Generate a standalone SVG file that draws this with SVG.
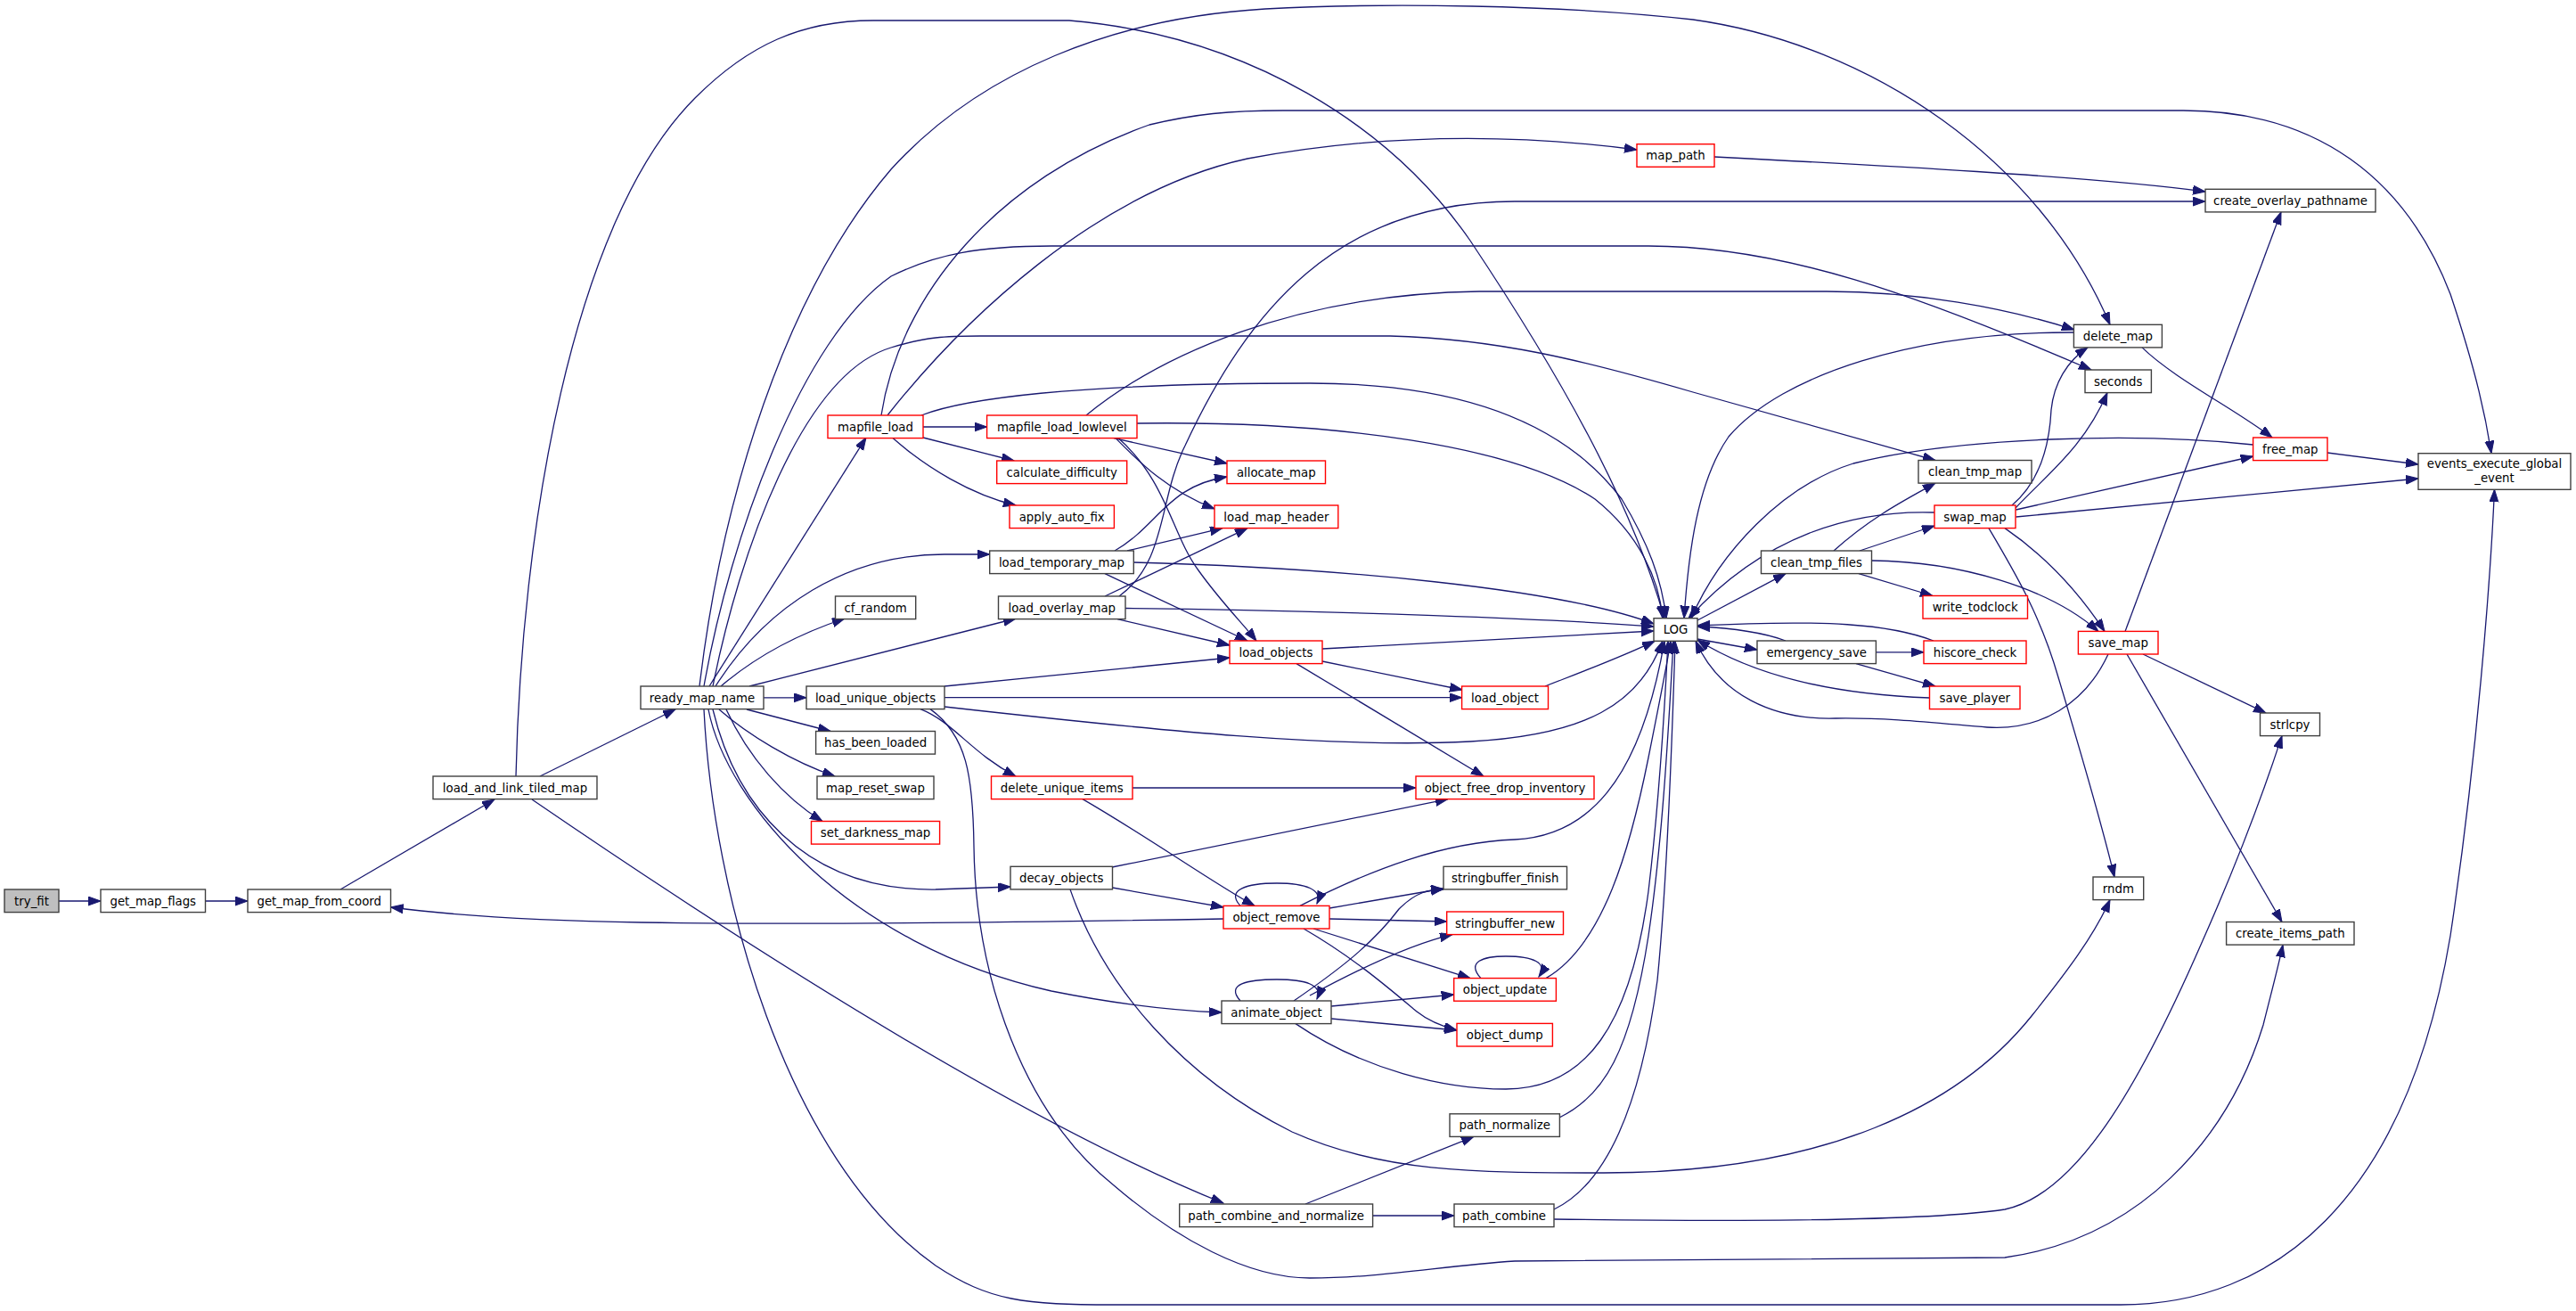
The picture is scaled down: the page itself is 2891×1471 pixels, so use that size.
<svg xmlns="http://www.w3.org/2000/svg" width="2891" height="1471" viewBox="0 0 2891 1471">
<style>
.n rect{fill:#fff;stroke:#404040;stroke-width:1.4}
.n.r rect{stroke:#ff0000}
.n.g rect{fill:#bfbfbf}
.n text{font-family:"DejaVu Sans","Liberation Sans",sans-serif;font-size:13.3px;fill:#000;text-anchor:middle}
#edges path{fill:none;stroke:#191970;stroke-width:1.3;marker-end:url(#ah)}
</style>
<defs>
<marker id="ah" markerUnits="userSpaceOnUse" markerWidth="15" markerHeight="11" refX="14" refY="5" orient="auto">
<path d="M0,0 L14,5 L0,10 Z" fill="#191970" stroke="#191970" stroke-width="1"/>
</marker>
</defs>
<rect width="2891" height="1471" fill="#fff"/>
<g id="edges">
<path d="M66,1011 L113,1011"/>
<path d="M230.5,1011 L278,1011"/>
<path d="M382,998 L555,897"/>
<path d="M1373,1031 C1200,1034 900,1038 720,1035 C600,1033 500,1026 438.5,1018"/>
<path d="M606,871 L758,796"/>
<path d="M597,897 C850,1070 1150,1260 1373,1350"/>
<path d="M579,871 C585,600 640,250 780,110 C840,50 900,23 980,23 L1200,23 C1400,40 1560,140 1650,270 C1750,420 1830,560 1868,694"/>
<path d="M796,770 L972,491"/>
<path d="M803,770 C860,680 950,622 1060,622 L1110.7,622"/>
<path d="M809,770 C850,735 900,710 948,694"/>
<path d="M841,770 L1140,694"/>
<path d="M857,782.8 L905,782.8"/>
<path d="M838,796 L932,820.5"/>
<path d="M807,796 C840,825 890,855 937,871"/>
<path d="M815,796 C840,850 880,895 923,921.5"/>
<path d="M800,796 C825,900 900,1000 1050,998 C1080,997 1110,996 1134,995"/>
<path d="M795,796 C815,900 950,1060 1180,1112 C1260,1128 1320,1134 1371,1136"/>
<path d="M790,796 C800,1000 880,1300 1050,1420 C1110,1460 1150,1464 1250,1464 L2380,1464 C2550,1464 2700,1350 2750,1050 C2780,850 2795,650 2799.5,549.3"/>
<path d="M790,770 C820,600 900,380 1000,310 C1050,285 1100,276 1180,276 L1850,276 C2000,276 2150,330 2347,415"/>
<path d="M785,770 C810,560 880,330 1000,190 C1100,80 1250,20 1420,10 C1550,3 1750,5 1900,22 C2100,50 2290,180 2368,364.3"/>
<path d="M800,770 C830,620 900,420 1000,390 C1040,378 1060,377 1100,377 L1560,377 C1680,380 1780,405 1900,440 L2172,516.5"/>
<path d="M996,466 C1080,360 1230,215 1400,178 C1550,150 1700,150 1837,168"/>
<path d="M989,466 C1010,330 1120,200 1290,140 C1340,128 1380,124 1440,124 L2450,124 C2600,124 2700,200 2750,330 C2780,420 2790,470 2796,508.7"/>
<path d="M1034,466 C1080,448 1200,430 1470,430 C1650,430 1760,480 1820,560 C1850,610 1865,650 1870,694"/>
<path d="M1036,479 L1107.6,479"/>
<path d="M1036,491 L1138,517"/>
<path d="M1002,491.6 C1040,525 1090,555 1140,567"/>
<path d="M1219,466 C1300,400 1450,330 1660,327 L2050,327 C2150,327 2250,345 2328,370"/>
<path d="M1276,475 C1500,472 1700,500 1790,560 C1840,600 1862,650 1866,694"/>
<path d="M1250,491.6 L1377,520"/>
<path d="M1252,491.6 C1280,520 1310,550 1363,571"/>
<path d="M1255,491.6 C1310,540 1315,600 1345,640 C1370,675 1395,700 1410,719"/>
<path d="M1251,618 C1300,590 1310,545 1377,535"/>
<path d="M1265,618 L1372,592.6"/>
<path d="M1272,631 C1500,637 1750,660 1856,700"/>
<path d="M1240,643.6 L1400,719"/>
<path d="M1240,669 L1400,592.6"/>
<path d="M1256,669 C1310,630 1300,560 1330,500 C1400,350 1500,226 1700,226 L2475,226"/>
<path d="M1263,682.5 C1500,685 1750,695 1856,703"/>
<path d="M1254,694.6 L1380,724"/>
<path d="M1060,770 L1380,738"/>
<path d="M1060,782.7 L1640.6,782.7"/>
<path d="M1060,793 C1300,820 1500,840 1650,832 C1780,825 1840,790 1866,719.3"/>
<path d="M1033,795.6 C1070,810 1090,845 1140,871"/>
<path d="M1044,795.6 C1085,825 1092,870 1093,950 C1095,1100 1150,1250 1250,1330 C1320,1390 1400,1434 1470,1434 C1550,1434 1620,1420 1700,1415 L2250,1411 C2400,1390 2500,1280 2540,1150 C2550,1110 2558,1080 2562,1060.1"/>
<path d="M1484,742 L1641,774"/>
<path d="M1484,728 L1856,708"/>
<path d="M1455,744.6 L1665,871"/>
<path d="M1734,770 C1780,752 1820,737 1857,719.3"/>
<path d="M1271,884 L1589,884"/>
<path d="M1215,896.6 C1290,940 1360,990 1408,1016.4"/>
<path d="M1248,973 L1625,896.6"/>
<path d="M1248.5,996 L1373,1018"/>
<path d="M1201,997.9 C1240,1110 1330,1210 1450,1270 C1550,1315 1650,1316 1800,1316 C2050,1316 2200,1240 2280,1140 C2320,1090 2350,1050 2368,1009.6"/>
<path d="M1392,1016.4 C1375,998 1400,991 1433,991 C1465,991 1485,998 1478,1014"/>
<path d="M1492,1019 L1620,997"/>
<path d="M1492,1031 L1623.7,1034"/>
<path d="M1474,1042 L1650,1097.6"/>
<path d="M1463,1042 C1520,1075 1560,1110 1590,1135 C1605,1147 1620,1152 1635,1156"/>
<path d="M1459,1016.4 C1540,975 1620,945 1700,942 C1780,938 1840,880 1868,719.3"/>
<path d="M1392,1123 C1375,1104 1400,1099 1433,1099 C1465,1099 1485,1105 1478,1121"/>
<path d="M1452,1123 C1500,1090 1540,1060 1570,1020 C1590,1000 1605,998 1620,998"/>
<path d="M1470,1117 C1520,1090 1580,1060 1630,1048.6"/>
<path d="M1494,1129 L1631.7,1116"/>
<path d="M1494,1143 L1635,1156"/>
<path d="M1454,1148.6 C1530,1200 1620,1222 1690,1222 C1780,1222 1830,1150 1850,1000 C1862,900 1868,800 1872,719.3"/>
<path d="M1662,1097.6 C1645,1079 1665,1073 1690,1073 C1720,1073 1738,1080 1727,1096"/>
<path d="M1735,1097.6 C1800,1060 1830,950 1850,850 C1862,790 1870,750 1875,719.3"/>
<path d="M1750,1254 C1800,1230 1830,1180 1850,1050 C1865,950 1872,830 1878,719.3"/>
<path d="M1465,1351 L1654,1275.4"/>
<path d="M1540.6,1364 L1632,1364"/>
<path d="M1744,1357 C1800,1330 1840,1250 1860,1100 C1870,1000 1876,850 1880,719.3"/>
<path d="M1744,1368 C1900,1370 2150,1372 2250,1357 C2330,1340 2400,1220 2470,1060 C2510,970 2540,890 2561,825.6"/>
<path d="M1905,696 L2004,643.6"/>
<path d="M1905,717 L1972,729"/>
<path d="M2004,719 C1980,710 1950,705 1905,703"/>
<path d="M2170,719 C2120,700 2050,695 1905,702"/>
<path d="M2105.4,731.8 L2159,731.8"/>
<path d="M2083,744.6 L2172,770"/>
<path d="M2165.5,783 C2080,780 1980,765 1905,718"/>
<path d="M2366,734 C2340,790 2290,820 2230,816 C2180,812 2120,805 2060,806 C1990,808 1930,780 1903,719.3"/>
<path d="M2087,618 L2171,590"/>
<path d="M2058,618 C2100,580 2140,560 2172,542.1"/>
<path d="M2086,643.6 L2169,668.5"/>
<path d="M2100.4,629 C2200,630 2300,660 2355,708.4"/>
<path d="M2250,592.6 C2290,620 2330,660 2362,708.4"/>
<path d="M2171,575 C2080,572 1980,600 1895,693.7"/>
<path d="M2232,592.6 C2260,640 2290,690 2310,760 C2340,860 2360,930 2373,984"/>
<path d="M2258,567 C2290,540 2300,500 2302,460 C2305,430 2320,405 2343,389.9"/>
<path d="M2262,570 C2300,530 2340,500 2365,440.6"/>
<path d="M2262.4,572 L2528.6,512"/>
<path d="M2262.4,580 L2714,537"/>
<path d="M2404,389.9 C2440,425 2510,460 2550,491"/>
<path d="M2327.4,373 C2150,372 2000,420 1940,490 C1905,540 1895,620 1890,693.7"/>
<path d="M2528.6,499 C2400,485 2200,490 2080,520 C2000,545 1930,620 1898,693.7"/>
<path d="M2612,508 L2714,521"/>
<path d="M1924,176 C2100,185 2350,198 2475,215"/>
<path d="M2385,708.4 L2560,237.9"/>
<path d="M2405,734 L2543,800"/>
<path d="M2387,734 L2561,1034.5"/>
</g>
<g id="try_fit" class="n g"><rect x="5" y="998" width="61" height="25.6"/><text x="35.5" y="1015.6">try_fit</text></g>
<g id="get_map_flags" class="n"><rect x="113" y="998" width="117.5" height="25.6"/><text x="171.75" y="1015.6">get_map_flags</text></g>
<g id="get_map_from_coord" class="n"><rect x="278" y="998" width="160.5" height="25.6"/><text x="358.25" y="1015.6">get_map_from_coord</text></g>
<g id="load_and_link_tiled_map" class="n"><rect x="486" y="871" width="184" height="25.6"/><text x="578" y="888.6">load_and_link_tiled_map</text></g>
<g id="ready_map_name" class="n"><rect x="719" y="770" width="138" height="25.6"/><text x="788" y="787.6">ready_map_name</text></g>
<g id="mapfile_load" class="n r"><rect x="929" y="466" width="107" height="25.6"/><text x="982.5" y="483.6">mapfile_load</text></g>
<g id="cf_random" class="n"><rect x="937.5" y="669" width="90.2" height="25.6"/><text x="982.6" y="686.6">cf_random</text></g>
<g id="load_unique_objects" class="n"><rect x="905" y="770" width="155" height="25.6"/><text x="982.5" y="787.6">load_unique_objects</text></g>
<g id="has_been_loaded" class="n"><rect x="915.6" y="820.5" width="133.9" height="25.6"/><text x="982.55" y="838.1">has_been_loaded</text></g>
<g id="map_reset_swap" class="n"><rect x="917" y="871" width="131" height="25.6"/><text x="982.5" y="888.6">map_reset_swap</text></g>
<g id="set_darkness_map" class="n r"><rect x="910.5" y="921.5" width="144.1" height="25.6"/><text x="982.55" y="939.1">set_darkness_map</text></g>
<g id="decay_objects" class="n"><rect x="1134" y="972.3" width="114.5" height="25.6"/><text x="1191.25" y="989.9">decay_objects</text></g>
<g id="mapfile_load_lowlevel" class="n r"><rect x="1107.6" y="466" width="168.4" height="25.6"/><text x="1191.8" y="483.6">mapfile_load_lowlevel</text></g>
<g id="calculate_difficulty" class="n r"><rect x="1118.7" y="517" width="146" height="25.6"/><text x="1191.7" y="534.6">calculate_difficulty</text></g>
<g id="apply_auto_fix" class="n r"><rect x="1133" y="567" width="117.4" height="25.6"/><text x="1191.7" y="584.6">apply_auto_fix</text></g>
<g id="load_temporary_map" class="n"><rect x="1110.7" y="618" width="161.6" height="25.6"/><text x="1191.5" y="635.6">load_temporary_map</text></g>
<g id="load_overlay_map" class="n"><rect x="1120.5" y="669" width="142.5" height="25.6"/><text x="1191.75" y="686.6">load_overlay_map</text></g>
<g id="delete_unique_items" class="n r"><rect x="1112.5" y="871" width="158.5" height="25.6"/><text x="1191.75" y="888.6">delete_unique_items</text></g>
<g id="allocate_map" class="n r"><rect x="1377" y="517" width="110.5" height="25.6"/><text x="1432.25" y="534.6">allocate_map</text></g>
<g id="load_map_header" class="n r"><rect x="1363" y="567" width="138.8" height="25.6"/><text x="1432.4" y="584.6">load_map_header</text></g>
<g id="load_objects" class="n r"><rect x="1380" y="719" width="104" height="25.6"/><text x="1432" y="736.6">load_objects</text></g>
<g id="object_remove" class="n r"><rect x="1373" y="1016.4" width="119" height="25.6"/><text x="1432.5" y="1034">object_remove</text></g>
<g id="animate_object" class="n"><rect x="1371" y="1123" width="123" height="25.6"/><text x="1432.5" y="1140.6">animate_object</text></g>
<g id="path_combine_and_normalize" class="n"><rect x="1323.7" y="1351" width="216.9" height="25.6"/><text x="1432.15" y="1368.6">path_combine_and_normalize</text></g>
<g id="load_object" class="n r"><rect x="1640.6" y="770" width="96.9" height="25.6"/><text x="1689.05" y="787.6">load_object</text></g>
<g id="object_free_drop_inventory" class="n r"><rect x="1589" y="871" width="200" height="25.6"/><text x="1689" y="888.6">object_free_drop_inventory</text></g>
<g id="stringbuffer_finish" class="n"><rect x="1620" y="972.3" width="138.5" height="25.6"/><text x="1689.25" y="989.9">stringbuffer_finish</text></g>
<g id="stringbuffer_new" class="n r"><rect x="1623.7" y="1023" width="130.8" height="25.6"/><text x="1689.1" y="1040.6">stringbuffer_new</text></g>
<g id="object_update" class="n r"><rect x="1631.7" y="1097.6" width="114.7" height="25.6"/><text x="1689.05" y="1115.2">object_update</text></g>
<g id="object_dump" class="n r"><rect x="1635" y="1148.4" width="107.4" height="25.6"/><text x="1688.7" y="1166">object_dump</text></g>
<g id="path_normalize" class="n"><rect x="1627" y="1249.8" width="123.4" height="25.6"/><text x="1688.7" y="1267.4">path_normalize</text></g>
<g id="path_combine" class="n"><rect x="1632" y="1351" width="112" height="25.6"/><text x="1688" y="1368.6">path_combine</text></g>
<g id="map_path" class="n r"><rect x="1837" y="161.7" width="87" height="25.6"/><text x="1880.5" y="179.3">map_path</text></g>
<g id="LOG" class="n"><rect x="1856" y="693.7" width="49" height="25.6"/><text x="1880.5" y="711.3">LOG</text></g>
<g id="create_overlay_pathname" class="n"><rect x="2475" y="212.3" width="191" height="25.6"/><text x="2570.5" y="229.9">create_overlay_pathname</text></g>
<g id="delete_map" class="n"><rect x="2327.4" y="364.3" width="99" height="25.6"/><text x="2376.9" y="381.9">delete_map</text></g>
<g id="seconds" class="n"><rect x="2340" y="415" width="74.4" height="25.6"/><text x="2377.2" y="432.6">seconds</text></g>
<g id="clean_tmp_map" class="n"><rect x="2153" y="516.5" width="127" height="25.6"/><text x="2216.5" y="534.1">clean_tmp_map</text></g>
<g id="swap_map" class="n r"><rect x="2171" y="567" width="91" height="25.6"/><text x="2216.5" y="584.6">swap_map</text></g>
<g id="clean_tmp_files" class="n"><rect x="1976.5" y="618" width="124" height="25.6"/><text x="2038.5" y="635.6">clean_tmp_files</text></g>
<g id="write_todclock" class="n r"><rect x="2158" y="668.5" width="117.5" height="25.6"/><text x="2216.75" y="686.1">write_todclock</text></g>
<g id="emergency_save" class="n"><rect x="1972" y="719" width="133.4" height="25.6"/><text x="2038.7" y="736.6">emergency_save</text></g>
<g id="hiscore_check" class="n r"><rect x="2159" y="719" width="115" height="25.6"/><text x="2216.5" y="736.6">hiscore_check</text></g>
<g id="save_player" class="n r"><rect x="2165.5" y="770" width="101.5" height="25.6"/><text x="2216.25" y="787.6">save_player</text></g>
<g id="save_map" class="n r"><rect x="2332.4" y="708.4" width="89.6" height="25.6"/><text x="2377.2" y="726">save_map</text></g>
<g id="rndm" class="n"><rect x="2349" y="984" width="56.7" height="25.6"/><text x="2377.35" y="1001.6">rndm</text></g>
<g id="strlcpy" class="n"><rect x="2536.5" y="800" width="67" height="25.6"/><text x="2570" y="817.6">strlcpy</text></g>
<g id="create_items_path" class="n"><rect x="2498.6" y="1034.5" width="143.4" height="25.6"/><text x="2570.3" y="1052.1">create_items_path</text></g>
<g id="free_map" class="n r"><rect x="2528.6" y="491" width="83.4" height="25.6"/><text x="2570.3" y="508.6">free_map</text></g>
<g id="events_execute_global_event" class="n"><rect x="2714" y="508.7" width="171" height="40.6"/><text x="2799.5" y="525">events_execute_global</text><text x="2799.5" y="540.6">_event</text></g>
</svg>
